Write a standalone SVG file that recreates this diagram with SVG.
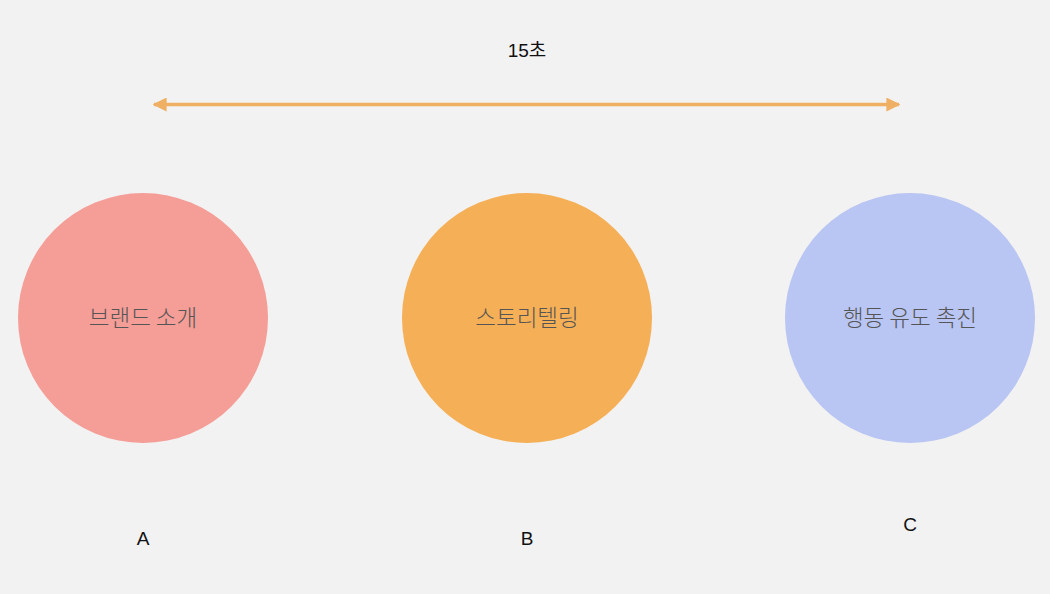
<svg xmlns="http://www.w3.org/2000/svg" width="1050" height="594" viewBox="0 0 1050 594">
<style>
.lbl{font-family:"Noto Sans CJK KR","Noto Sans",sans-serif;font-size:22.5px;font-weight:300;fill:#555;text-anchor:middle}
.cap{font-family:"Liberation Sans","Noto Sans CJK KR",sans-serif;font-size:19px;fill:#111;text-anchor:middle}
</style>
<defs>
<marker id="ah" viewBox="0 0 10 10" refX="9" refY="5" markerWidth="4" markerHeight="4" orient="auto-start-reverse" markerUnits="strokeWidth">
<path d="M0,0 L10,5 L0,10 Z" fill="#EFB064"/>
</marker>
</defs>
<rect width="1050" height="594" fill="#F2F2F2"/>
<g id="connectors">
<line x1="154" y1="104.5" x2="899" y2="104.5" stroke="#EFB064" stroke-width="3.5" marker-start="url(#ah)" marker-end="url(#ah)"/>
</g>
<g id="title"><text class="cap" x="527" y="57">15초</text></g>
<g id="nodeA">
<circle cx="143" cy="318" r="125" fill="#F59D97"/>
<text class="lbl" x="143" y="326">브랜드 소개</text>
</g>
<g id="nodeB">
<circle cx="527" cy="318" r="125" fill="#F5AF56"/>
<text class="lbl" x="527" y="326">스토리텔링</text>
</g>
<g id="nodeC">
<circle cx="910" cy="318" r="125" fill="#B9C5F2"/>
<text class="lbl" x="910" y="326">행동 유도 촉진</text>
</g>
<g id="labelA"><text class="cap" x="143" y="545">A</text></g>
<g id="labelB"><text class="cap" x="527" y="545">B</text></g>
<g id="labelC"><text class="cap" x="910" y="531">C</text></g>
</svg>
